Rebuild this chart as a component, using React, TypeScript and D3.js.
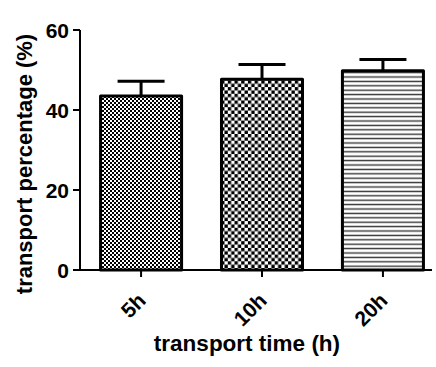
import React, {useEffect, useRef} from 'react';
import * as d3 from 'd3';

const categories = ['5h', '10h', '20h'];
const means = [43.5, 47.7, 49.8];
const errors = [3.7, 3.7, 2.8];
const yTicks = [0, 20, 40, 60];
const patterns = ['fineCheck', 'coarseCheck', 'hLines'];

const App = () => {
    const svgRef = useRef(null);

    useEffect(() => {
        const svg = d3.select(svgRef.current);
        svg.selectAll('*').remove();

        const font = '"Liberation Sans", Arial, sans-serif';

        const x = d3.scaleBand().domain(categories).range([80, 444]).paddingInner(0.33).paddingOuter(0.17);
        const y = d3.scaleLinear().domain([0, 60]).range([270, 30]);

        // patterns
        const defs = svg.append('defs');
        const p1 = defs.append('pattern').attr('id', 'fineCheck').attr('patternUnits', 'userSpaceOnUse')
            .attr('width', 4).attr('height', 4);
        p1.append('rect').attr('width', 4).attr('height', 4).attr('fill', '#fff');
        p1.append('rect').attr('width', 2).attr('height', 2).attr('fill', '#000');
        p1.append('rect').attr('x', 2).attr('y', 2).attr('width', 2).attr('height', 2).attr('fill', '#000');

        const c = 3.35;
        const p2 = defs.append('pattern').attr('id', 'coarseCheck').attr('patternUnits', 'userSpaceOnUse')
            .attr('width', c * 2).attr('height', c * 2);
        p2.append('rect').attr('width', c * 2).attr('height', c * 2).attr('fill', '#fff');
        p2.append('rect').attr('width', c).attr('height', c).attr('fill', '#000');
        p2.append('rect').attr('x', c).attr('y', c).attr('width', c).attr('height', c).attr('fill', '#000');

        const p3 = defs.append('pattern').attr('id', 'hLines').attr('patternUnits', 'userSpaceOnUse')
            .attr('width', 10).attr('height', 4.4);
        p3.append('rect').attr('width', 10).attr('height', 4.4).attr('fill', '#fff');
        p3.append('rect').attr('y', 1.5).attr('width', 10).attr('height', 1.4).attr('fill', '#333');

        // error bars
        const eb = svg.append('g').attr('stroke', '#000').attr('stroke-width', 3);
        categories.forEach((cat, i) => {
            const cx = x(cat) + x.bandwidth() / 2;
            eb.append('line').attr('x1', cx).attr('x2', cx).attr('y1', y(means[i])).attr('y2', y(means[i] + errors[i]));
            eb.append('line').attr('x1', cx - 23.5).attr('x2', cx + 23.5)
                .attr('y1', y(means[i] + errors[i])).attr('y2', y(means[i] + errors[i]));
        });

        // bars
        svg.append('g').selectAll('rect').data(categories).join('rect')
            .attr('x', (d) => x(d))
            .attr('y', (d, i) => y(means[i]))
            .attr('width', x.bandwidth())
            .attr('height', (d, i) => y(0) - y(means[i]))
            .attr('fill', (d, i) => `url(#${patterns[i]})`)
            .attr('stroke', '#000')
            .attr('stroke-width', 3)
            .attr('stroke-linejoin', 'round');

        // y axis
        const ya = svg.append('g').attr('stroke', '#000').attr('stroke-width', 2);
        ya.append('line').attr('x1', 80).attr('x2', 80).attr('y1', y(60)).attr('y2', y(0));
        yTicks.forEach((t) => {
            ya.append('line').attr('x1', 73).attr('x2', 80).attr('y1', y(t)).attr('y2', y(t));
        });
        svg.append('g').selectAll('text').data(yTicks).join('text')
            .attr('x', 69)
            .attr('y', (d) => y(d) + 7.5)
            .attr('text-anchor', 'end')
            .attr('font-family', font)
            .attr('font-weight', 'bold')
            .attr('font-size', 21)
            .text((d) => d);

        // x axis
        const xa = svg.append('g').attr('stroke', '#000').attr('stroke-width', 2);
        xa.append('line').attr('x1', 73).attr('x2', 432).attr('y1', y(0)).attr('y2', y(0));
        categories.forEach((cat) => {
            const cx = x(cat) + x.bandwidth() / 2;
            xa.append('line').attr('x1', cx).attr('x2', cx).attr('y1', y(0)).attr('y2', y(0) + 7);
        });
        svg.append('g').selectAll('text').data(categories).join('text')
            .attr('transform', (d) => `translate(${x(d) + x.bandwidth() / 2 + 6},302) rotate(-45)`)
            .attr('text-anchor', 'end')
            .attr('font-family', font)
            .attr('font-weight', 'bold')
            .attr('font-size', 21)
            .text((d) => d);

        // titles
        svg.append('text')
            .attr('x', 247)
            .attr('y', 351)
            .attr('text-anchor', 'middle')
            .attr('font-family', font)
            .attr('font-weight', 'bold')
            .attr('font-size', 22.5)
            .text('transport time (h)');

        svg.append('text')
            .attr('transform', 'translate(32,164) rotate(-90)')
            .attr('text-anchor', 'middle')
            .attr('font-family', font)
            .attr('font-weight', 'bold')
            .attr('font-size', 22)
            .text('transport percentage (%)');
    }, []);

    return (
        <svg
            ref={svgRef}
            width={436}
            height={367}
            style={{position: 'absolute', left: 0, top: 0, background: '#fff'}}
        />
    );
};

export default App;
